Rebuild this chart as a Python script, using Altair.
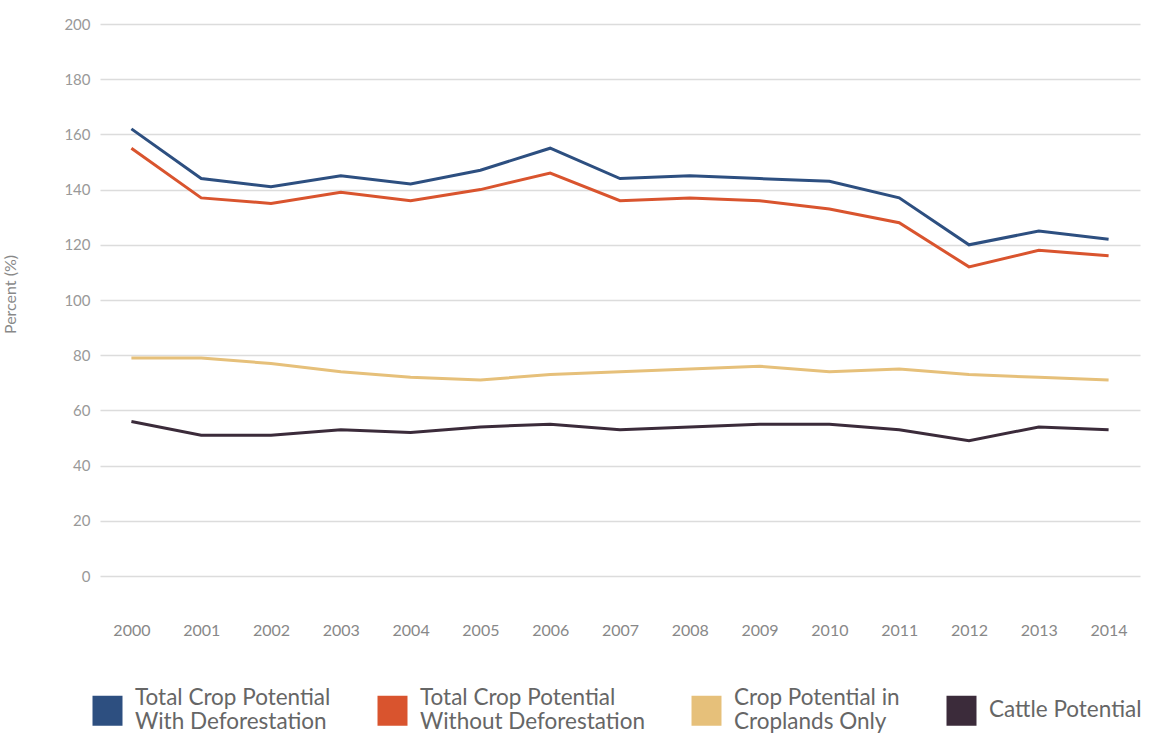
import altair as alt
import pandas as pd

years = [str(y) for y in range(2000, 2015)]
with_def = [162, 144, 141, 145, 142, 147, 155, 144, 145, 144, 143, 137, 120, 125, 122]
without_def = [155, 137, 135, 139, 136, 140, 146, 136, 137, 136, 133, 128, 112, 118, 116]
croplands = [79, 79, 77, 74, 72, 71, 73, 74, 75, 76, 74, 75, 73, 72, 71]
cattle = [56, 51, 51, 53, 52, 54, 55, 53, 54, 55, 55, 53, 49, 54, 53]

series_names = [
    "Total Crop Potential|With Deforestation",
    "Total Crop Potential|Without Deforestation",
    "Crop Potential in|Croplands Only",
    "Cattle Potential",
]
series_colors = ["#2d4f80", "#d9542e", "#e6c07a", "#3b2b3a"]

rows = []
for name, vals in zip(series_names, [with_def, without_def, croplands, cattle]):
    for y, v in zip(years, vals):
        rows.append({"Year": y, "Value": v, "Series": name})
df = pd.DataFrame(rows)

FONT = "Lato"

chart = alt.Chart(df).mark_line(strokeWidth=3).encode(
    x=alt.X("Year:O", scale=alt.Scale(type="point", padding=0.45),
            axis=alt.Axis(title=None, labelAngle=0, ticks=False, domain=False, grid=False,
                          labelPadding=46, labelFontSize=16, labelColor="#888", labelFont=FONT)),
    y=alt.Y("Value:Q", scale=alt.Scale(domain=[0, 200], nice=False),
            axis=alt.Axis(title="Percent (%)", values=list(range(0, 201, 20)), ticks=False,
                          domain=False, gridColor="#dcdcdc", gridWidth=1.5,
                          labelPadding=10, labelFontSize=15, labelColor="#999", labelFont=FONT,
                          titleFontSize=16, titleColor="#888", titleFont=FONT, titleFontWeight="normal",
                          titleX=-82, titleY=270)),
    color=alt.Color("Series:N", sort=series_names,
                    scale=alt.Scale(domain=series_names, range=series_colors),
                    legend=alt.Legend(title=None, orient="none", legendX=-8, legendY=658,
                                      direction="horizontal", columns=4, columnPadding=-14,
                                      symbolType="M-30,26H30", symbolSize=1, symbolStrokeWidth=30,
                                      symbolOpacity=1, labelOffset=12,
                                      labelFontSize=22.5, labelColor="#666", labelFont=FONT,
                                      labelLimit=400,
                                      labelBaseline=alt.ExprRef("datum.value == 'Cattle Potential' ? 'line-top' : 'middle'"),
                                      labelExpr="split(datum.label, '|')")),
).properties(
    width=1040, height=552,
    autosize=alt.AutoSizeParams(type="none"),
    padding={"left": 100, "top": 24, "right": 19, "bottom": 163},
).configure_view(stroke=None)

chart.save("out.html", embed_options={"renderer": "svg", "actions": False})
